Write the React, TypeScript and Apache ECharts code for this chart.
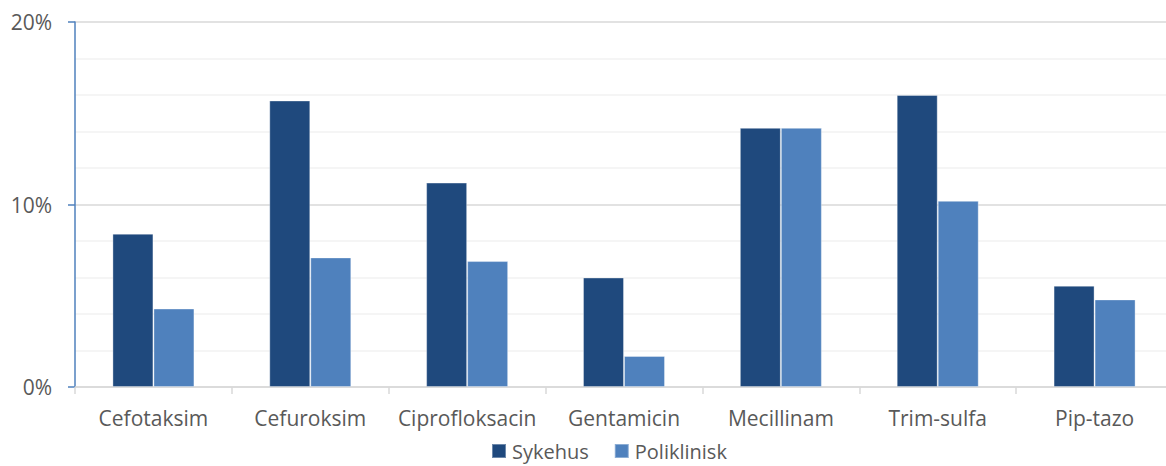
import React, { useEffect, useRef } from "react";
import * as echarts from "echarts";

const categories = ["Cefotaksim", "Cefuroksim", "Ciprofloksacin", "Gentamicin", "Mecillinam", "Trim-sulfa", "Pip-tazo"];
const sykehus = [8.4, 15.7, 11.2, 6.0, 14.2, 16.0, 5.55];
const poliklinisk = [4.3, 7.1, 6.9, 1.7, 14.2, 10.2, 4.8];
const seriesNames = ["Sykehus", "Poliklinisk"];
const colors = ["#1F497D", "#4F81BD"];

const FONT = "'Open Sans', sans-serif";
const TEXT = "#595959";

export default function App() {
  const ref = useRef<HTMLDivElement>(null);
  useEffect(() => {
    if (!ref.current) return;
    const chart = echarts.init(ref.current, null, { renderer: "svg" });
    chart.setOption({
      animation: false,
      backgroundColor: "#ffffff",
      textStyle: { fontFamily: FONT },
      grid: { left: 75, top: 22, bottom: 79, right: 0, containLabel: false },
      legend: {
        data: seriesNames,
        top: 441,
        left: 491,
        padding: 0,
        itemWidth: 14,
        itemHeight: 14,
        itemGap: 25,
        icon: "rect",
        textStyle: { color: TEXT, fontSize: 20, lineHeight: 20, fontFamily: FONT, padding: [0, 0, 0, 1] },
      },
      xAxis: {
        type: "category",
        data: categories,
        axisLine: { lineStyle: { color: "#d9d9d9", width: 1.5 } },
        axisTick: { show: true, length: 7, lineStyle: { color: "#d9d9d9", width: 1.5 } },
        axisLabel: { color: TEXT, fontSize: 21, fontFamily: FONT, margin: 20, interval: 0 },
        splitLine: { show: false },
      },
      yAxis: {
        type: "value",
        min: 0,
        max: 20,
        interval: 10,
        axisLine: { show: true, lineStyle: { color: "#4F81BD", width: 1.5 } },
        axisTick: { show: true, length: 7, lineStyle: { color: "#4F81BD", width: 1.5 } },
        axisLabel: { color: TEXT, fontSize: 21, fontFamily: FONT, margin: 23, formatter: "{value}%" },
        splitLine: { show: true, lineStyle: { color: "#d9d9d9", width: 1.5 } },
        minorTick: { show: false, splitNumber: 5 },
        minorSplitLine: { show: true, lineStyle: { color: "#f2f2f2", width: 1.5 } },
      },
      series: [
        {
          name: seriesNames[0],
          type: "bar",
          data: sykehus,
          barWidth: 41,
          barGap: "0%",
          itemStyle: { color: colors[0], borderColor: "rgba(255,255,255,0.35)", borderWidth: 1 },
        },
        {
          name: seriesNames[1],
          type: "bar",
          data: poliklinisk,
          barWidth: 41,
          barGap: "0%",
          itemStyle: { color: colors[1], borderColor: "rgba(255,255,255,0.35)", borderWidth: 1 },
        },
      ],
    });
    return () => chart.dispose();
  }, []);
  return (
    <div
      ref={ref}
      style={{ position: "fixed", left: 0, top: 0, width: 1173, height: 466 }}
    />
  );
}
